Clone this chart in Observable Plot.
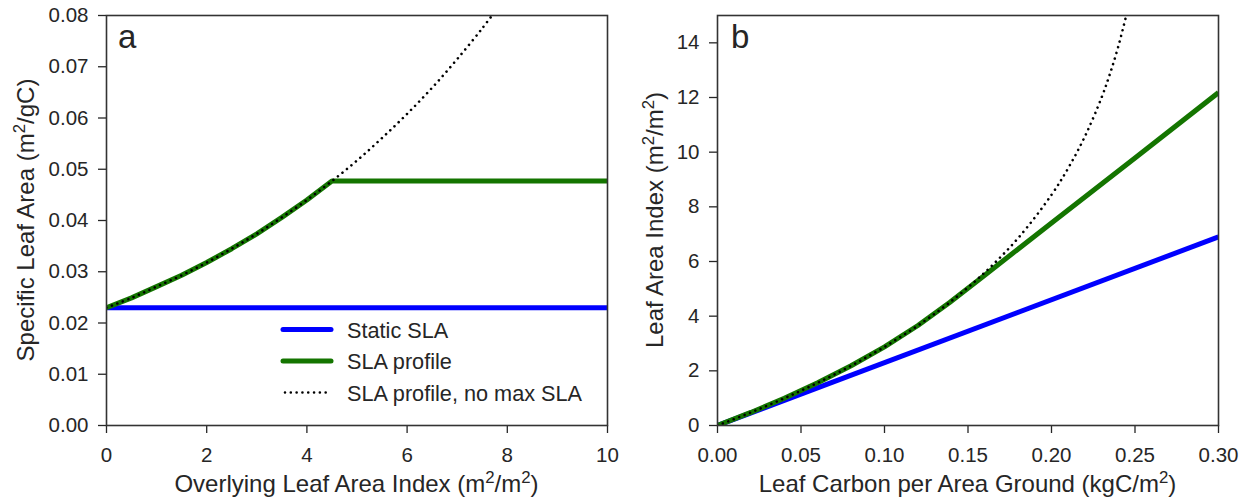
<!DOCTYPE html>
<html><head><meta charset="utf-8">
<script src="https://cdn.jsdelivr.net/npm/d3@7"></script>
<script src="https://cdn.jsdelivr.net/npm/@observablehq/plot@0.6"></script>
<style>
body{margin:0;background:#fff}
#wrap{display:flex;width:1250px;height:499px}
svg{display:block;overflow:visible}
</style>
</head><body><div id="wrap"></div>
<script>
// ---------- Panel a data ----------
const laiOverlying = [0, 0.5, 1, 1.5, 2, 2.5, 3, 3.5, 4, 4.5, 5, 5.5, 6, 6.5, 7, 7.5, 7.8];
const slaNoMax =     [0.0230, 0.0249, 0.0271, 0.0293, 0.0318, 0.0345, 0.0374, 0.0406, 0.0440, 0.0477, 0.0517, 0.0561, 0.0608, 0.0659, 0.0715, 0.0775, 0.0814];
const laiProfile =   [0, 0.5, 1, 1.5, 2, 2.5, 3, 3.5, 4, 4.5, 5, 10];
const slaProfile =   [0.0230, 0.0249, 0.0271, 0.0293, 0.0318, 0.0345, 0.0374, 0.0406, 0.0440, 0.0477, 0.0477, 0.0477];
const laiStatic =    [0, 10];
const slaStatic =    [0.0230, 0.0230];
const aXTicks = [0, 2, 4, 6, 8, 10];
const aYTicks = [0, 0.01, 0.02, 0.03, 0.04, 0.05, 0.06, 0.07, 0.08];

// ---------- Panel b data ----------
const carbonNoMax = [0, 0.02, 0.04, 0.06, 0.08, 0.10, 0.12, 0.139, 0.16, 0.18, 0.20, 0.21, 0.22, 0.23, 0.235, 0.24, 0.245];
const laiNoMax =    [0, 0.478, 0.996, 1.562, 2.185, 2.878, 3.658, 4.50, 5.597, 6.856, 8.44, 9.416, 10.575, 12.00, 12.866, 13.868, 15.06];
const carbonProfile = [0, 0.02, 0.04, 0.06, 0.08, 0.10, 0.12, 0.139, 0.16, 0.20, 0.25, 0.30];
const laiProfileB =   [0, 0.478, 0.996, 1.562, 2.185, 2.878, 3.658, 4.50, 5.50, 7.41, 9.79, 12.18];
const carbonStatic = [0, 0.30];
const laiStaticB =   [0, 6.9];
const bXTicks = [0, 0.05, 0.10, 0.15, 0.20, 0.25, 0.30];
const bYTicks = [0, 2, 4, 6, 8, 10, 12, 14];

const BLUE = "#0000ff", GREEN = "#147500", INK = "#262626";
const DOT = "0.01 5.8";
const zip = (xs, ys) => xs.map((x, i) => ({x, y: ys[i]}));

function panel({width, ml, mr, xDomain, yDomain, xTicks, yTicks, xFmt, yFmt, series}) {
  const marks = [];
  for (const s of series) {
    marks.push(Plot.line(s.data, {x: "x", y: "y", stroke: s.color, strokeWidth: s.width,
      strokeDasharray: s.dash, strokeLinecap: s.dash ? "round" : "butt", curve: s.curve, clip: true}));
  }
  marks.push(Plot.axisX({ticks: xTicks, tickFormat: xFmt, tickSize: 8, tickPadding: 14, label: null, strokeWidth: 1.3}));
  marks.push(Plot.axisY({ticks: yTicks, tickFormat: yFmt, tickSize: 8, tickPadding: 10, label: null, strokeWidth: 1.3}));
  marks.push(Plot.frame({stroke: "#333", strokeWidth: 1.6}));
  return Plot.plot({
    width, height: 499, marginLeft: ml, marginRight: mr, marginTop: 15, marginBottom: 74,
    style: {fontFamily: "'Liberation Sans', Arial, sans-serif", fontSize: "20.5px", color: INK, background: "#fff"},
    x: {domain: xDomain}, y: {domain: yDomain},
    marks
  });
}

function richText(sel, parts) {
  for (const p of parts) {
    const t = sel.append("tspan").text(p.t);
    if (p.sup) t.attr("baseline-shift", "super").attr("font-size", "70%");
  }
}

const wrap = document.getElementById("wrap");

// Panel a
const svgA = panel({
  width: 625, ml: 106, mr: 18, xDomain: [0, 10], yDomain: [0, 0.08],
  xTicks: aXTicks, yTicks: aYTicks, xFmt: d => String(d), yFmt: d3.format(".2f"),
  series: [
    {data: zip(laiStatic, slaStatic), color: BLUE, width: 5, curve: "linear"},
    {data: zip(laiProfile, slaProfile), color: GREEN, width: 5, curve: "linear"},
    {data: zip(laiOverlying, slaNoMax), color: "#000", width: 2.6, dash: DOT, curve: "catmull-rom"}
  ]
});
wrap.appendChild(svgA);

// Panel b
const svgB = panel({
  width: 625, ml: 92, mr: 32, xDomain: [0, 0.30], yDomain: [0, 15],
  xTicks: bXTicks, yTicks: bYTicks, xFmt: d3.format(".2f"), yFmt: d => String(d),
  series: [
    {data: zip(carbonStatic, laiStaticB), color: BLUE, width: 5, curve: "linear"},
    {data: zip(carbonProfile, laiProfileB), color: GREEN, width: 5, curve: "linear"},
    {data: zip(carbonNoMax, laiNoMax), color: "#000", width: 2.6, dash: DOT, curve: "catmull-rom"}
  ]
});
wrap.appendChild(svgB);

const font = "'Liberation Sans', Arial, sans-serif";
function labels(svg, {xLabel, yLabel, xc, yx, tag, tagX}) {
  const s = d3.select(svg);
  const xl = s.append("text").attr("x", xc).attr("y", 492).attr("text-anchor", "middle")
    .attr("font-family", font).attr("font-size", 24).attr("fill", INK);
  richText(xl, xLabel);
  const yl = s.append("text").attr("transform", `translate(${yx},220) rotate(-90)`).attr("text-anchor", "middle")
    .attr("font-family", font).attr("font-size", 24).attr("fill", INK);
  richText(yl, yLabel);
  s.append("text").attr("x", tagX).attr("y", 48).attr("text-anchor", "start").attr("font-family", font).attr("font-size", 33)
    .attr("fill", INK).text(tag);
}

labels(svgA, {
  xLabel: [{t: "Overlying Leaf Area Index (m"}, {t: "2", sup: true}, {t: "/m"}, {t: "2", sup: true}, {t: ")"}],
  yLabel: [{t: "Specific Leaf Area (m"}, {t: "2", sup: true}, {t: "/gC)"}],
  xc: 356.5, yx: 34, tag: "a", tagX: 118
});
labels(svgB, {
  xLabel: [{t: "Leaf Carbon per Area Ground (kgC/m"}, {t: "2", sup: true}, {t: ")"}],
  yLabel: [{t: "Leaf Area Index (m"}, {t: "2", sup: true}, {t: "/m"}, {t: "2", sup: true}, {t: ")"}],
  xc: 342.5, yx: 38, tag: "b", tagX: 106
});

// Legend in panel a
const legendItems = [
  {label: "Static SLA", color: BLUE, width: 5},
  {label: "SLA profile", color: GREEN, width: 5},
  {label: "SLA profile, no max SLA", color: "#000", width: 2.6, dash: DOT}
];
const lg = d3.select(svgA).append("g").attr("text-anchor", "start");
legendItems.forEach((it, i) => {
  const y = 329.5 + i * 31.5;
  lg.append("line").attr("x1", it.dash ? 285 : 283).attr("x2", 331).attr("y1", y).attr("y2", y)
    .attr("stroke", it.color).attr("stroke-width", it.width)
    .attr("stroke-dasharray", it.dash || null).attr("stroke-linecap", "round");
  lg.append("text").attr("x", 347).attr("y", y + 8).attr("text-anchor", "start").attr("font-family", font).attr("font-size", 21.7)
    .attr("fill", INK).text(it.label);
});
</script></body></html>
